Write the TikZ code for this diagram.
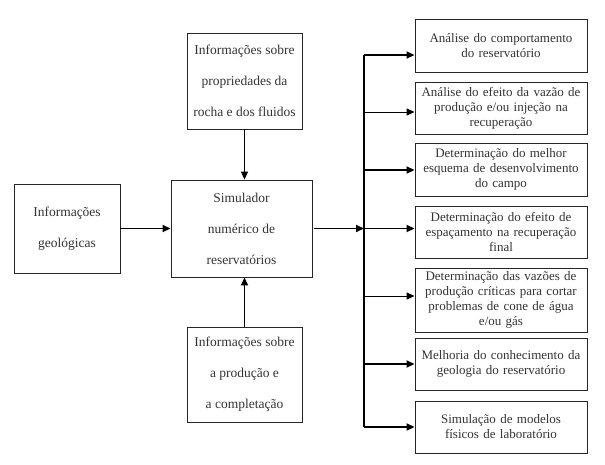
\documentclass[tikz,border=0pt]{standalone}
\usepackage{fontspec}
\setmainfont{Liberation Serif}
\usetikzlibrary{arrows.meta}
\begin{document}
\begin{tikzpicture}[x=1pt,y=-1pt,
  box/.style={draw=black!85,line width=0.9pt,inner sep=0pt,align=center,text=black!80},
  lbox/.style={box,font=\fontsize{13.5}{31}\selectfont},
  rbox/.style={box,font=\fontsize{13}{15}\selectfont,minimum width=172pt,text width=170pt},
  thk/.style={line width=1.7pt,-{Triangle[length=8pt,width=7pt]}},
  thn/.style={line width=1pt,-{Triangle[length=8pt,width=7pt]}}]
\useasboundingbox (0,0) rectangle (605,464);
\node[lbox,minimum width=106pt,minimum height=89pt] (geo) at (67,228.5) {Informações\\geológicas};
\node[lbox,minimum width=115pt,minimum height=96pt] (top) at (244.5,81) {Informações sobre\\propriedades da\\rocha e dos fluidos};
\node[lbox,minimum width=141pt,minimum height=97pt] (sim) at (241.5,228.5) {Simulador\\numérico de\\reservatórios};
\node[lbox,minimum width=115pt,minimum height=95pt] (bot) at (244.5,374.5) {Informações sobre\\a produção e\\a completação};
\node[rbox,minimum height=53pt] (r1) at (501,45.5) {Análise do comportamento\\do reservatório};
\node[rbox,minimum height=52pt] (r2) at (501,108) {Análise do efeito da vazão de\\produção e/ou injeção na\\recuperação};
\node[rbox,minimum height=53pt] (r3) at (501,169.5) {Determinação do melhor\\esquema de desenvolvimento\\do campo};
\node[rbox,minimum height=52pt] (r4) at (501,232) {Determinação do efeito de\\espaçamento na recuperação\\final};
\node[rbox,minimum height=64pt] (r5) at (501,300) {Determinação das vazões de\\produção críticas para cortar\\problemas de cone de água\\e/ou gás};
\node[rbox,minimum height=52pt] (r6) at (501,364) {Melhoria do conhecimento da\\geologia do reservatório};
\node[rbox,minimum height=52pt] (r7) at (501,427) {Simulação de modelos\\físicos de laboratório};
\coordinate (b1) at (364,55);
\coordinate (b2) at (364,112);
\coordinate (b3) at (364,170);
\coordinate (b4) at (364,228.5);
\coordinate (b5) at (364,296);
\coordinate (b6) at (364,364);
\coordinate (b7) at (364,427);
\draw[line width=1.7pt] (b1) -- (b7);
\draw[thk] (geo.east) -- (sim.west);
\draw[thn] (top.south) -- (top.south |- sim.north);
\draw[thk] (bot.north) -- (bot.north |- sim.south);
\draw[thk,shorten <=2pt] (sim.east) -- (b4);
\draw[thk] (b1) -- (b1 -| r1.west);
\draw[thn] (b2) -- (b2 -| r2.west);
\draw[thk] (b3) -- (b3 -| r3.west);
\draw[thk] (b4) -- (b4 -| r4.west);
\draw[thn] (b5) -- (b5 -| r5.west);
\draw[thk] (b6) -- (b6 -| r6.west);
\draw[thk] (b7) -- (b7 -| r7.west);
\end{tikzpicture}
\end{document}
